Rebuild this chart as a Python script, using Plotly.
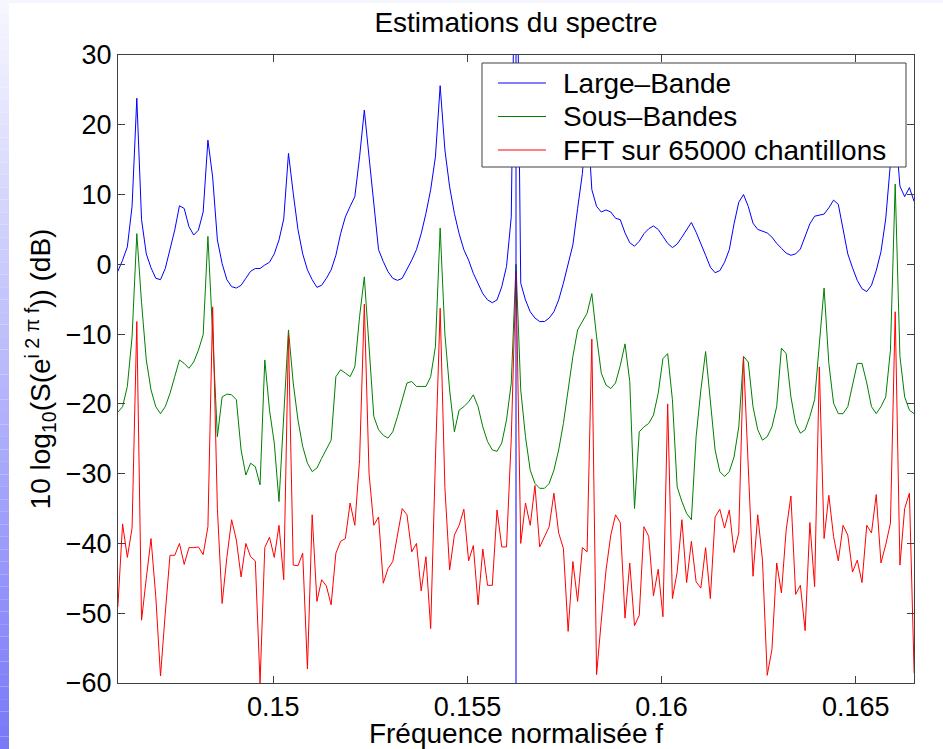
import numpy as np
import plotly.graph_objects as go

# Frequency bins (normalised frequency, step 1/8192)
bins = np.arange(1196, 1365)
freq = bins / 8192.0

large_bande = [
    -1.0, 0.6, 2.5, 8.3, 23.8, 6.4, 1.5, -0.5, -2.0, -2.2,
    -0.6, 2.0, 4.9, 8.4, 8.0, 5.4, 4.2, 4.9, 7.5, 17.8,
    12.5, 3.5, 0.1, -2.2, -3.2, -3.4, -3.0, -2.0, -1.0, -0.6,
    -0.6, -0.1, 0.3, 1.5, 3.5, 6.5, 15.9, 10.2, 5.0, 1.5,
    -0.8, -2.2, -3.3, -3.0, -2.0, -0.8, 1.3, 4.4, 6.8, 8.3,
    9.7, 15.4, 22.1, 15.4, 9.2, 2.1, 0.4, -1.05, -2.0, -2.3,
    -2.0, -0.8, 0.6, 2.1, 4.4, 7.3, 10.7, 15.4, 25.6, 16.4,
    11.1, 7.3, 4.4, 2.1, 0.6, -1.3, -2.7, -4.2, -5.1, -5.5,
    -5.1, -3.2, -0.3, 6.8, 60.0, -2.7, -5.1, -6.8, -7.7, -8.2,
    -8.2, -7.7, -6.8, -5.1, -2.7, 0.15, 2.8, 8.0, 13.0, 22.0,
    10.7, 8.3, 7.5, 7.8, 7.5, 6.6, 6.4, 4.5, 3.1, 2.6,
    3.3, 4.4, 5.1, 5.5, 5.0, 4.0, 3.0, 2.4, 2.9, 3.9,
    4.9, 6.0, 4.6, 2.8, 1.3, -0.4, -1.2, -0.9, 0.3, 2.1,
    5.8, 8.9, 10.0, 8.3, 5.9, 5.0, 4.7, 4.5, 3.9, 3.0,
    2.3, 1.6, 1.3, 1.5, 2.2, 3.9, 5.8, 6.9, 7.1, 7.2,
    8.1, 9.2, 8.6, 5.0, 1.5, -0.5, -2.3, -3.5, -3.9, -3.0,
    -0.9, 1.8, 6.5, 14.5, 20.0, 11.2, 9.7, 11.0, 9.0,
]

sous_bandes = [
    -21.2, -20.4, -17.5, -10.4, 4.4, -5.5, -13.7, -18.0, -20.4, -21.4,
    -20.4, -18.5, -16.1, -13.7, -14.2, -14.9, -14.0, -12.3, -10.1, 4.0,
    -10.0, -24.7, -19.0, -18.6, -18.7, -19.4, -26.6, -30.2, -28.5, -29.0,
    -31.6, -13.7, -20.9, -25.6, -34.0, -22.0, -9.4, -17.0, -22.3, -26.1,
    -28.5, -29.7, -29.2, -27.8, -26.6, -25.2, -16.1, -15.1, -15.6, -16.1,
    -14.7, -7.5, -1.8, -12.3, -21.8, -23.7, -24.5, -24.9, -24.0, -21.8,
    -19.4, -17.0, -16.8, -17.5, -17.5, -17.5, -16.1, -11.8, 5.2, -10.0,
    -18.0, -24.0, -20.9, -20.4, -19.7, -18.7, -20.4, -23.3, -25.4, -26.6,
    -26.8, -25.6, -22.3, -17.0, 0.0, -18.0, -24.7, -29.5, -31.4, -32.1,
    -32.1, -31.4, -29.5, -26.6, -22.8, -18.0, -13.2, -9.4, -8.2, -7.0,
    -4.2, -10.4, -15.6, -17.3, -17.8, -17.0, -14.5, -11.4, -16.8, -35.0,
    -24.0, -23.3, -22.8, -21.6, -18.5, -13.5, -12.8, -19.4, -31.9, -34.0,
    -35.7, -36.6, -24.7, -18.0, -12.5, -19.4, -26.6, -29.7, -30.4, -29.7,
    -27.6, -23.3, -13.2, -14.0, -20.4, -23.7, -25.2, -24.7, -23.3, -20.4,
    -12.0, -12.8, -19.0, -22.8, -24.2, -23.7, -21.8, -19.4, -11.8, -3.4,
    -14.2, -19.9, -21.4, -21.4, -20.4, -17.5, -14.2, -14.2, -17.0, -20.4,
    -21.4, -20.4, -19.0, -12.3, 11.5, -13.2, -19.0, -20.9, -21.4,
]

fft_65000 = [
    -49.1, -37.2, -42.0, -37.8, -8.2, -51.0, -45.0, -39.3, -47.6, -59.0,
    -50.0, -41.7, -41.7, -40.0, -43.0, -40.6, -40.6, -40.5, -41.6, -37.6,
    -6.1, -35.0, -48.6, -42.0, -36.6, -39.5, -44.8, -40.0, -41.9, -42.5,
    -60.0, -40.6, -39.1, -42.0, -37.4, -45.2, -10.1, -43.1, -43.2, -41.4,
    -58.0, -35.9, -48.3, -45.2, -46.1, -48.8, -41.4, -39.7, -39.3, -34.2,
    -37.4, -28.0, -5.7, -30.0, -37.4, -36.2, -45.7, -43.6, -42.6, -39.0,
    -35.0, -35.9, -41.2, -40.0, -46.8, -41.9, -52.2, -28.0, -6.3, -32.0,
    -43.8, -38.8, -37.4, -35.1, -42.5, -40.3, -48.8, -40.8, -46.0, -46.0,
    -35.2, -40.5, -40.5, -25.0, -1.0, -40.0, -34.2, -37.4, -31.7, -40.5,
    -39.0, -37.6, -32.8, -38.5, -40.7, -52.6, -42.6, -48.3, -40.6, -41.2,
    -10.7, -58.8, -51.0, -43.8, -38.8, -35.9, -37.0, -50.7, -42.8, -51.8,
    -50.3, -37.6, -39.0, -47.5, -43.7, -50.5, -20.0, -47.9, -44.1, -36.6,
    -45.6, -39.7, -45.5, -46.4, -40.6, -47.9, -36.2, -35.1, -37.8, -35.2,
    -41.3, -38.5, -13.3, -30.0, -44.7, -35.9, -42.4, -58.9, -55.2, -42.8,
    -47.1, -38.1, -33.2, -47.3, -46.0, -52.5, -37.0, -46.2, -14.7, -39.3,
    -33.1, -39.0, -42.5, -37.4, -38.8, -44.1, -42.4, -45.6, -37.4, -38.5,
    -33.0, -42.8, -40.2, -37.1, -6.8, -43.1, -35.0, -32.8, -58.6,
]

# Frequency of the on-bin sinusoid, marked across the whole dB range
sine_freq = 0.15625
db_range = [-60, 30]

x_ticks = [0.15, 0.155, 0.16, 0.165]
x_tick_text = ["0.15", "0.155", "0.16", "0.165"]
y_ticks = [-60, -50, -40, -30, -20, -10, 0, 10, 20, 30]

series_names = ["Large\u2013Bande", "Sous\u2013Bandes", "FFT sur 65000 chantillons"]
series_colors = ["#0000ff", "#008000", "#ff0000"]

FONT = "Liberation Sans, Arial, Helvetica, sans-serif"
AXIS_COLOR = "#404040"

fig = go.Figure()
for name, values, color in zip(series_names, [large_bande, sous_bandes, fft_65000], series_colors):
    fig.add_trace(go.Scatter(x=freq, y=values, mode="lines", name=name,
                             showlegend=False, line=dict(color=color, width=1)))
fig.add_trace(go.Scatter(x=[sine_freq, sine_freq], y=db_range, mode="lines",
                         showlegend=False, line=dict(color="#0000ff", width=1)))

# Plot area in pixels: left 118, right 914, top 55, bottom 683
L, R, T, B = 118, 914, 55, 683
W, H = 943, 749


def px_x(p):
    return (p - L) / (R - L)


def px_y(p):
    return (B - p) / (B - T)


shapes = []
# light frame strip along the top of the page
shapes.append(dict(type="rect", xref="paper", yref="paper",
                   x0=px_x(0), x1=px_x(W), y0=px_y(3), y1=px_y(0),
                   fillcolor="#f5f5fd", line=dict(width=0), layer="below"))
# vertical gradient strip on the left edge
n_bands = 60
top_rgb = np.array([248, 248, 255])
bot_rgb = np.array([120, 120, 250])
for k in range(n_bands):
    t = (k + 0.5) / n_bands
    c = (top_rgb * (1 - t) + bot_rgb * t).astype(int)
    y0 = H * k / n_bands
    y1 = H * (k + 1) / n_bands
    shapes.append(dict(type="rect", xref="paper", yref="paper",
                       x0=px_x(0), x1=px_x(9), y0=px_y(y1), y1=px_y(y0),
                       fillcolor=f"rgb({c[0]},{c[1]},{c[2]})",
                       line=dict(width=0), layer="below"))

# Legend box (boxed, MATLAB style) in the upper right of the axes
LEG_L, LEG_R, LEG_T, LEG_B = 482, 906, 63, 167
LEG_ROWS = [83, 116.5, 150]
shapes.append(dict(type="rect", xref="paper", yref="paper",
                   x0=px_x(LEG_L), x1=px_x(LEG_R), y0=px_y(LEG_B), y1=px_y(LEG_T),
                   fillcolor="white", line=dict(color=AXIS_COLOR, width=1), layer="above"))
annotations = []
for name, color, row in zip(series_names, series_colors, LEG_ROWS):
    shapes.append(dict(type="line", xref="paper", yref="paper",
                       x0=px_x(498), x1=px_x(546), y0=px_y(row), y1=px_y(row),
                       line=dict(color=color, width=1), layer="above"))
    annotations.append(dict(text=name, xref="paper", yref="paper",
                            x=px_x(561), y=px_y(row), xanchor="left", yanchor="middle",
                            showarrow=False, font=dict(size=28, color="black")))

fig.update_layout(
    width=W, height=H,
    margin=dict(l=L, r=W - R, t=T, b=H - B),
    paper_bgcolor="white", plot_bgcolor="white",
    font=dict(family=FONT, size=27, color="black"),
    title=dict(text="Estimations du spectre", x=516 / W, xanchor="center",
               y=1 - 22 / H, yanchor="middle", font=dict(size=28)),
    showlegend=False,
    shapes=shapes,
    annotations=annotations,
)

fig.update_xaxes(range=[0.146, 0.1665], tickvals=x_ticks, ticktext=x_tick_text,
                 ticks="inside", ticklen=7, tickcolor=AXIS_COLOR, tickwidth=1,
                 automargin=False,
                 showline=True, linecolor=AXIS_COLOR, linewidth=1, mirror="ticks",
                 showgrid=False, zeroline=False,
                 title=dict(text="Fréquence normalisée f", font=dict(size=28), standoff=0))
fig.update_yaxes(range=[-60, 30], tickvals=y_ticks,
                 ticks="inside", ticklen=7, tickcolor=AXIS_COLOR, tickwidth=1,
                 automargin=False,
                 showline=True, linecolor=AXIS_COLOR, linewidth=1, mirror="ticks",
                 showgrid=False, zeroline=False,
                 title=dict(text="10 log<sub>10</sub>(S(e<sup>i 2 \u03c0 f</sup>)) (dB)",
                            font=dict(size=28), standoff=6))

fig.write_html("out.html")
